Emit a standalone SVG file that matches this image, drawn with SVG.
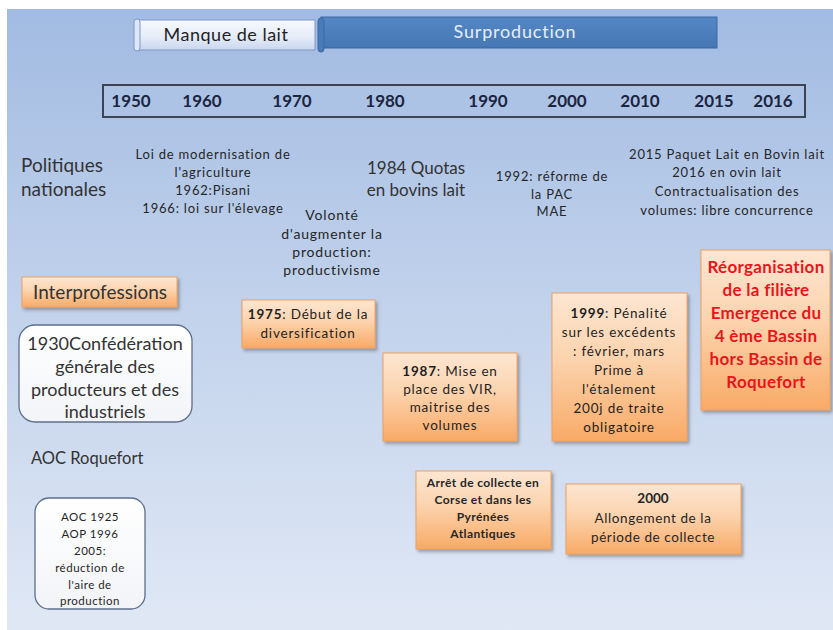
<svg xmlns="http://www.w3.org/2000/svg" width="833" height="630" viewBox="0 0 833 630">
  <defs>
    <linearGradient id="bg" x1="0" y1="0" x2="0" y2="1">
      <stop offset="0" stop-color="#a2bbe2"/>
      <stop offset="0.5" stop-color="#c3d3ec"/>
      <stop offset="1" stop-color="#e0e8f5"/>
    </linearGradient>
    <linearGradient id="orange" x1="0" y1="0" x2="0" y2="1">
      <stop offset="0" stop-color="#fde6d2"/>
      <stop offset="0.45" stop-color="#fcd3ad"/>
      <stop offset="1" stop-color="#f9aa66"/>
    </linearGradient>
    <linearGradient id="paleBlue" x1="0" y1="0" x2="0" y2="1">
      <stop offset="0" stop-color="#f7f9fe"/>
      <stop offset="0.6" stop-color="#e4ebf8"/>
      <stop offset="1" stop-color="#c8d6ef"/>
    </linearGradient>
    <linearGradient id="darkBlue" x1="0" y1="0" x2="0" y2="1">
      <stop offset="0" stop-color="#5487c4"/>
      <stop offset="1" stop-color="#4677b5"/>
    </linearGradient>
    <linearGradient id="whiteBox" x1="0" y1="0" x2="0" y2="1">
      <stop offset="0" stop-color="#ffffff"/>
      <stop offset="1" stop-color="#f2f4f8"/>
    </linearGradient>
    <filter id="shadow" x="-10%" y="-10%" width="125%" height="130%">
      <feDropShadow dx="2" dy="2.5" stdDeviation="1.5" flood-color="#4a4a4a" flood-opacity="0.45"/>
    </filter>
  </defs>
  <style>
    text { font-family: Lato, "Open Sans", "Liberation Sans", sans-serif; fill: #262626; }
    .year { font-size: 17px; font-weight: bold; fill: #1c2540; text-anchor: middle; }
    .note { font-size: 13px; letter-spacing: 0.8px; text-anchor: middle; }
    .note14 { font-size: 14px; letter-spacing: 0.8px; text-anchor: middle; }
    .big { font-size: 19px; fill: #333333; }
    .mid { font-size: 17px; fill: #333333; text-anchor: middle; }
    .box { fill: url(#orange); stroke: #eca062; stroke-width: 1; filter: url(#shadow); }
    .boxtxt { font-size: 13.5px; letter-spacing: 0.8px; text-anchor: middle; fill: #1f1f1f; }
    .rounded { fill: url(#whiteBox); stroke: #5d6f8c; stroke-width: 1.3; }
    .red { font-size: 17px; letter-spacing: 0.3px; font-weight: bold; fill: #e8161c; text-anchor: middle; }
    .b { font-weight: bold; }
  </style>

  <!-- page background -->
  <rect x="0" y="0" width="833" height="630" fill="#ffffff"/>
  <rect x="7" y="9" width="826" height="621" fill="url(#bg)"/>

  <!-- period banners -->
  <g id="manque-de-lait">
    <rect x="138" y="20" width="177" height="30" fill="url(#paleBlue)" stroke="#7d98c6" stroke-width="1"/>
    <rect x="134" y="19" width="6" height="32" rx="3" fill="#dfe7f6" stroke="#7d98c6" stroke-width="1"/>
    <text x="226" y="41" text-anchor="middle" font-size="18" letter-spacing="0.5" style="fill:#1f1f1f">Manque de lait</text>
  </g>
  <g id="surproduction">
    <rect x="321" y="17" width="396" height="31" fill="url(#darkBlue)" stroke="#3c68a3" stroke-width="1"/>
    <rect x="318" y="18" width="6" height="34" rx="3" fill="#4a7bb9" stroke="#3c68a3" stroke-width="1"/>
    <text x="515" y="38" text-anchor="middle" font-size="18" letter-spacing="0.8" style="fill:#e6edf8">Surproduction</text>
  </g>

  <!-- timeline -->
  <g id="timeline">
    <rect x="103" y="85" width="702" height="32" fill="#adc3e6" stroke="#3c4454" stroke-width="2"/>
    <text class="year" x="131" y="107">1950</text>
    <text class="year" x="202" y="107">1960</text>
    <text class="year" x="292" y="107">1970</text>
    <text class="year" x="385" y="107">1980</text>
    <text class="year" x="488" y="107">1990</text>
    <text class="year" x="567" y="107">2000</text>
    <text class="year" x="640" y="107">2010</text>
    <text class="year" x="714" y="107">2015</text>
    <text class="year" x="773" y="107">2016</text>
  </g>

  <!-- national policies -->
  <g id="politiques-nationales">
    <text class="big" x="21" y="172">Politiques</text>
    <text class="big" x="21" y="196">nationales</text>
  </g>
  <g id="loi-modernisation">
    <text class="note" x="213" y="159">Loi de modernisation de</text>
    <text class="note" x="213" y="177">l'agriculture</text>
    <text class="note" x="213" y="195">1962:Pisani</text>
    <text class="note" x="213" y="213">1966: loi sur l'élevage</text>
  </g>
  <g id="volonte">
    <text class="note14" x="332" y="220">Volonté</text>
    <text class="note14" x="332" y="239">d'augmenter  la</text>
    <text class="note14" x="332" y="257">production:</text>
    <text class="note14" x="332" y="275">productivisme</text>
  </g>
  <g id="quotas-1984">
    <text class="mid" x="416" y="174">1984 Quotas</text>
    <text class="mid" x="416" y="196">en bovins lait</text>
  </g>
  <g id="reforme-pac">
    <text class="note" x="552" y="181">1992: réforme de</text>
    <text class="note" x="552" y="199">la PAC</text>
    <text class="note" x="552" y="216">MAE</text>
  </g>
  <g id="paquet-lait">
    <text class="note" x="727" y="159">2015 Paquet Lait en Bovin lait</text>
    <text class="note" x="727" y="177">2016 en ovin lait</text>
    <text class="note" x="727" y="196">Contractualisation  des</text>
    <text class="note" x="727" y="215">volumes:  libre  concurrence</text>
  </g>

  <!-- interprofessions -->
  <g id="interprofessions">
    <rect class="box" x="22" y="277" width="155" height="30"/>
    <text class="big" x="100" y="299" text-anchor="middle">Interprofessions</text>
  </g>
  <g id="confederation">
    <rect class="rounded" x="19" y="325" width="173" height="97" rx="16"/>
    <text class="mid" x="105" y="350" style="font-size:18px">1930Confédération</text>
    <text class="mid" x="105" y="373" style="font-size:18px">générale des</text>
    <text class="mid" x="105" y="396" style="font-size:18px">producteurs et des</text>
    <text class="mid" x="105" y="418" style="font-size:18px">industriels</text>
  </g>
  <g id="aoc-roquefort">
    <text x="31" y="464" font-size="16.5" style="fill:#333333">AOC Roquefort</text>
  </g>
  <g id="aoc-dates">
    <rect class="rounded" x="35" y="498" width="110" height="111" rx="14"/>
    <g font-size="11.5" letter-spacing="0.5" text-anchor="middle">
      <text x="90" y="521">AOC 1925</text>
      <text x="90" y="538">AOP 1996</text>
      <text x="90" y="555">2005:</text>
      <text x="90" y="572">réduction de</text>
      <text x="90" y="589">l'aire de</text>
      <text x="90" y="605">production</text>
    </g>
  </g>

  <!-- events -->
  <g id="diversification">
    <rect class="box" x="242" y="300" width="133" height="48"/>
    <text class="boxtxt" x="308" y="319"><tspan class="b">1975</tspan>: Début de la</text>
    <text class="boxtxt" x="308" y="338">diversification</text>
  </g>
  <g id="vir">
    <rect class="box" x="383" y="353" width="134" height="88"/>
    <text class="boxtxt" x="450" y="376"><tspan class="b">1987</tspan>: Mise en</text>
    <text class="boxtxt" x="450" y="394">place des VIR,</text>
    <text class="boxtxt" x="450" y="412">maitrise  des</text>
    <text class="boxtxt" x="450" y="430">volumes</text>
  </g>
  <g id="penalite">
    <rect class="box" x="552" y="293" width="135" height="148"/>
    <text class="boxtxt" x="619" y="318"><tspan class="b">1999</tspan>: Pénalité</text>
    <text class="boxtxt" x="619" y="337">sur les excédents</text>
    <text class="boxtxt" x="619" y="356">: février,  mars</text>
    <text class="boxtxt" x="619" y="375">Prime à</text>
    <text class="boxtxt" x="619" y="394">l'étalement</text>
    <text class="boxtxt" x="619" y="413">200j de traite</text>
    <text class="boxtxt" x="619" y="432">obligatoire</text>
  </g>
  <g id="reorganisation">
    <rect class="box" x="701" y="250" width="129" height="160"/>
    <text class="red" x="766" y="273">Réorganisation</text>
    <text class="red" x="766" y="296">de la filière</text>
    <text class="red" x="766" y="319">Emergence du</text>
    <text class="red" x="766" y="342">4 ème Bassin</text>
    <text class="red" x="766" y="365">hors Bassin de</text>
    <text class="red" x="766" y="388">Roquefort</text>
  </g>
  <g id="arret-collecte">
    <rect class="box" x="416" y="471" width="135" height="78"/>
    <g font-size="12" letter-spacing="0.4" font-weight="bold" text-anchor="middle">
      <text x="483" y="487">Arrêt de collecte en</text>
      <text x="483" y="504">Corse et dans les</text>
      <text x="483" y="521">Pyrénées</text>
      <text x="483" y="538">Atlantiques</text>
    </g>
  </g>
  <g id="allongement">
    <rect class="box" x="566" y="484" width="175" height="70"/>
    <text x="653" y="503" text-anchor="middle" font-size="13.5" font-weight="bold">2000</text>
    <text x="653" y="523" text-anchor="middle" font-size="13.5" letter-spacing="0.6">Allongement   de la</text>
    <text x="653" y="542" text-anchor="middle" font-size="13.5" letter-spacing="0.6">période  de collecte</text>
  </g>

  <!-- no connectors are drawn in this chart -->
  <g id="connectors"/>
</svg>
